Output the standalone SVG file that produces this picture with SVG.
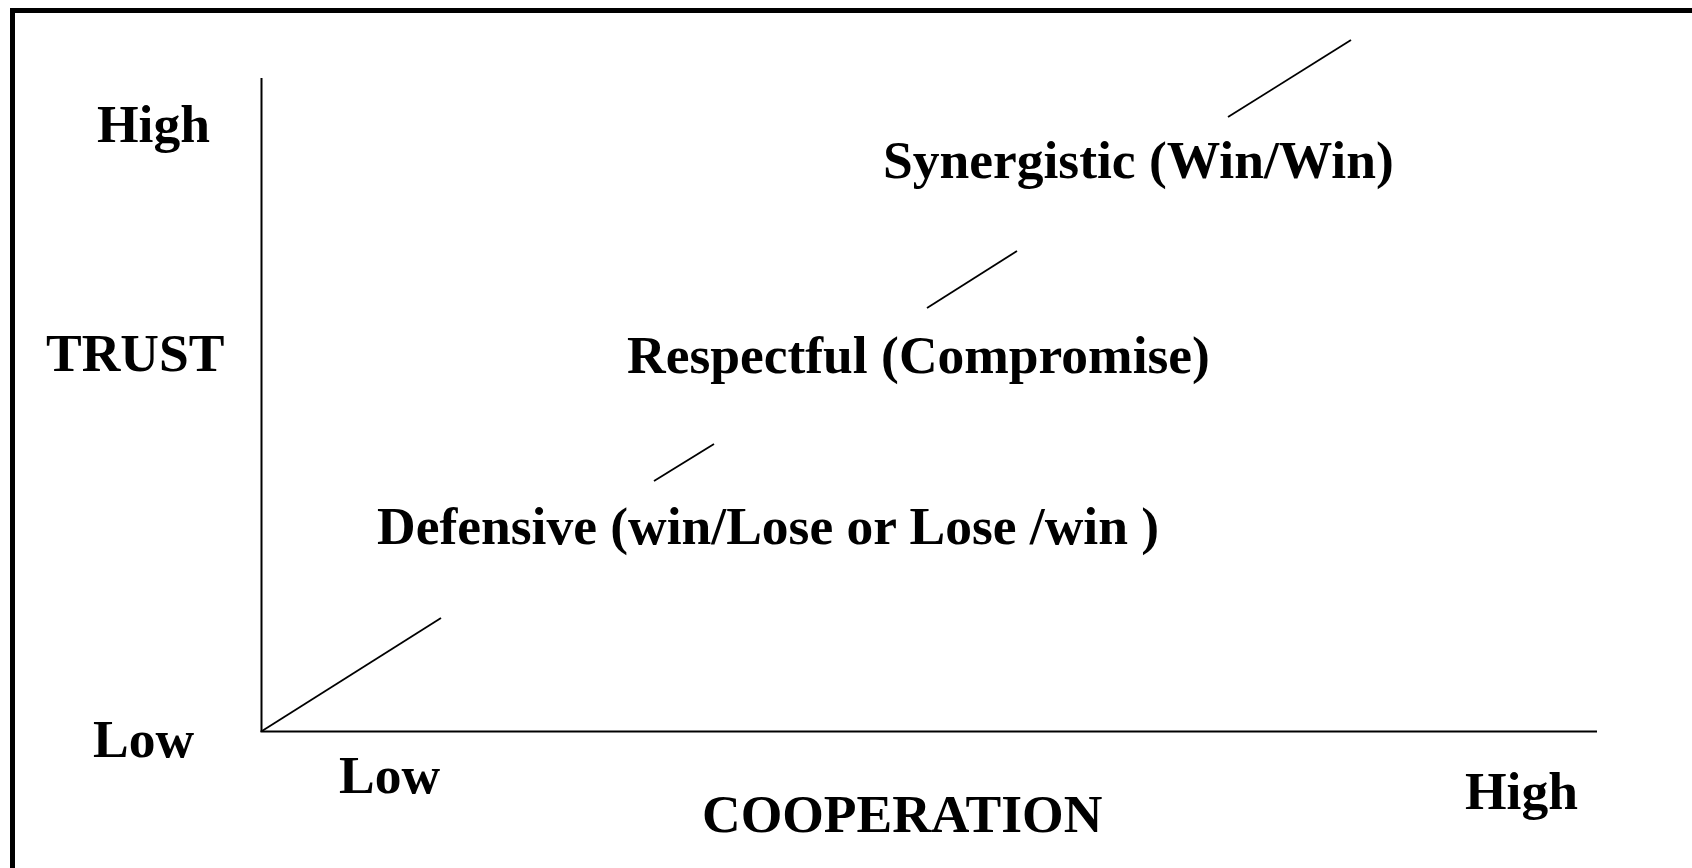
<svg xmlns="http://www.w3.org/2000/svg" width="1692" height="868" viewBox="0 0 1692 868">
<style>
.t{font-family:"Liberation Serif","Times New Roman",serif;font-weight:bold;font-size:53.5px;fill:#000}
.ax{stroke:#000;stroke-width:2;fill:none}
.dg{stroke:#000;stroke-width:1.8;fill:none}
</style>
<rect x="0" y="0" width="1692" height="868" fill="#fff"/>
<rect id="frame" x="12.5" y="10.5" width="1700" height="860" fill="none" stroke="#000" stroke-width="5"/>
<g id="connectors">
<line class="ax" x1="261.5" y1="78" x2="261.5" y2="732"/>
<line class="ax" x1="260.5" y1="731.5" x2="1597" y2="731.5"/>
<line class="dg" x1="262" y1="731" x2="441" y2="618"/>
<line class="dg" x1="654" y1="481" x2="714" y2="444"/>
<line class="dg" x1="927" y1="308" x2="1017" y2="251"/>
<line class="dg" x1="1228" y1="117" x2="1351" y2="40"/>
</g>
<g id="trust-high"><text class="t" x="97" y="141.5">High</text></g>
<g id="trust-label"><text class="t" x="46" y="371">TRUST</text></g>
<g id="trust-low"><text class="t" x="93" y="756.5">Low</text></g>
<g id="coop-low"><text class="t" x="339" y="793">Low</text></g>
<g id="coop-label"><text class="t" x="702" y="831.5">COOPERATION</text></g>
<g id="coop-high"><text class="t" x="1465" y="809">High</text></g>
<g id="synergistic"><text class="t" x="883" y="178">Synergistic (Win/Win)</text></g>
<g id="respectful"><text class="t" x="627" y="373.3">Respectful (Compromise)</text></g>
<g id="defensive"><text class="t" x="377" y="544.3">Defensive (win/Lose or Lose /win )</text></g>
</svg>
